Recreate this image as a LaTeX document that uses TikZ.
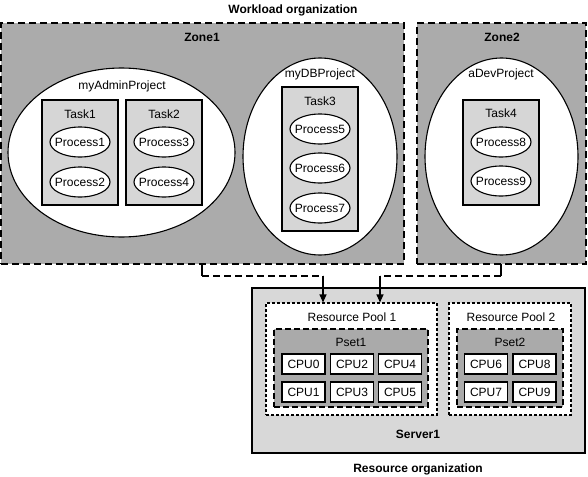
\documentclass[tikz,border=0pt]{standalone}
\usepackage{fontspec}
\setmainfont{Liberation Sans}
\usetikzlibrary{arrows.meta,shapes.geometric}
\definecolor{zonegray}{HTML}{ABABAB}
\definecolor{taskgray}{HTML}{D6D6D6}
\definecolor{servergray}{HTML}{D8D8D8}
\definecolor{psetgray}{HTML}{AAAAAA}
\begin{document}
\begin{tikzpicture}[x=1pt,y=-1pt,
  every node/.style={font=\fontsize{12}{14}\selectfont, inner sep=0pt},
  titletext/.style={font=\fontsize{12}{14}\selectfont\bfseries},
  zonebox/.style={draw, fill=zonegray, line width=1.4pt, dash pattern=on 7pt off 4pt},
  projshape/.style={draw, fill=white, ellipse, line width=1.1pt},
  taskbox/.style={draw, fill=taskgray, line width=1.4pt},
  procshape/.style={draw, fill=white, ellipse, line width=1.1pt, minimum width=60pt, minimum height=30pt},
  serverbox/.style={draw, fill=servergray, line width=1.4pt},
  poolbox/.style={draw, fill=white, line width=1.1pt, dash pattern=on 3pt off 2pt},
  psetbox/.style={draw, fill=psetgray, line width=1.4pt, dash pattern=on 6pt off 3pt},
  cpubox/.style={draw, fill=white, line width=1.4pt, minimum width=43pt, minimum height=20pt},
  dashline/.style={line width=1.1pt, dash pattern=on 7pt off 4pt},
  arrowline/.style={line width=1.1pt, -{Triangle[length=8pt,width=7pt]}}
]
\useasboundingbox (0,0) rectangle (588,476);

% Titles
\node[titletext] (wtitle) at (293,10) {Workload organization};
\node[titletext] (rtitle) at (418,469) {Resource organization};

% Zones
\node[zonebox, minimum width=403pt, minimum height=241pt] (zone1) at (202.5,143.5) {};
\node[zonebox, minimum width=169pt, minimum height=241pt] (zone2) at (501.5,143.5) {};
\node[titletext] (zone1l) at (202,37) {Zone1};
\node[titletext] (zone2l) at (502,37) {Zone2};

% Projects
\node[projshape, minimum width=227pt, minimum height=169pt] (padmin) at (121.5,152.5) {};
\node[projshape, minimum width=154pt, minimum height=197pt] (pdb) at (320,156.5) {};
\node[projshape, minimum width=153pt, minimum height=197pt] (pdev) at (501.5,156.5) {};
\node (padminl) at (122,86) {myAdminProject};
\node (pdbl) at (320,74) {myDBProject};
\node (pdevl) at (501,74) {aDevProject};

% Tasks
\node[taskbox, minimum width=76pt, minimum height=105pt] (task1) at (80,152.5) {};
\node[taskbox, minimum width=76pt, minimum height=105pt] (task2) at (164,152.5) {};
\node[taskbox, minimum width=76pt, minimum height=144pt] (task3) at (320,159) {};
\node[taskbox, minimum width=76pt, minimum height=105pt] (task4) at (501,152.5) {};
\node (task1l) at (80,114) {Task1};
\node (task2l) at (164,114) {Task2};
\node (task3l) at (320,101) {Task3};
\node (task4l) at (501,113) {Task4};

% Processes
\node[procshape] (p1) at (80,142) {};
\node[procshape] (p2) at (80,182) {};
\node[procshape] (p3) at (164,142) {};
\node[procshape] (p4) at (164,182) {};
\node[procshape] (p5) at (320,129) {};
\node[procshape] (p6) at (320,168) {};
\node[procshape] (p7) at (320,208) {};
\node[procshape] (p8) at (501,142) {};
\node[procshape] (p9) at (501,181) {};
\node (p1l) at (p1) {Process1};
\node (p2l) at (p2) {Process2};
\node (p3l) at (p3) {Process3};
\node (p4l) at (p4) {Process4};
\node (p5l) at (p5) {Process5};
\node (p6l) at (p6) {Process6};
\node (p7l) at (p7) {Process7};
\node (p8l) at (p8) {Process8};
\node (p9l) at (p9) {Process9};

% Server
\node[serverbox, minimum width=333pt, minimum height=165pt] (server) at (418.5,370.5) {};
\node[titletext] (serverl) at (418,434) {Server1};
\node[poolbox, minimum width=171pt, minimum height=112pt] (rp1) at (351.5,359) {};
\node[poolbox, minimum width=122pt, minimum height=112pt] (rp2) at (510,359) {};
\node (rp1l) at (352,317) {Resource Pool 1};
\node (rp2l) at (511,317) {Resource Pool 2};
\node[psetbox, minimum width=154pt, minimum height=78pt] (pset1) at (351,368) {};
\node[psetbox, minimum width=106pt, minimum height=78pt] (pset2) at (510,368) {};
\node (pset1l) at (351,342) {Pset1};
\node (pset2l) at (510,342) {Pset2};

% CPUs
\node[cpubox] (cpu0) at (303.5,364) {CPU0};
\node[cpubox] (cpu2) at (352,364) {CPU2};
\node[cpubox] (cpu4) at (400,364) {CPU4};
\node[cpubox] (cpu1) at (303.5,392) {CPU1};
\node[cpubox] (cpu3) at (352,392) {CPU3};
\node[cpubox] (cpu5) at (400,392) {CPU5};
\node[cpubox] (cpu6) at (486,364) {CPU6};
\node[cpubox] (cpu8) at (534.5,364) {CPU8};
\node[cpubox] (cpu7) at (486,392) {CPU7};
\node[cpubox] (cpu9) at (534.5,392) {CPU9};

% Connectors
\coordinate (a1) at (202,264);
\coordinate (a2) at (501,264);
\coordinate (m1) at (323,276);
\coordinate (m2) at (380,276);
\draw[line width=1.1pt] (a1) -- (202,276);
\draw[dashline] (202,276) -- (m1);
\draw[arrowline] (m1) -- (m1 |- rp1.north);
\draw[line width=1.1pt] (a2) -- (501,276);
\draw[dashline] (501,276) -- (m2);
\draw[arrowline] (m2) -- (m2 |- rp1.north);
\end{tikzpicture}
\end{document}
